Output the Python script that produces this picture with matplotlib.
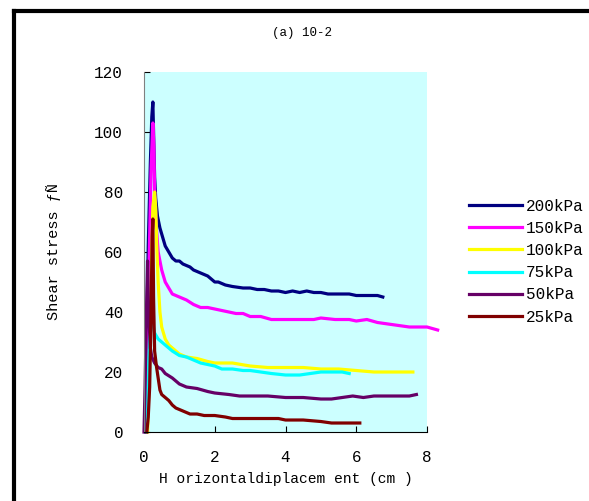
import matplotlib.pyplot as plt
from matplotlib.lines import Line2D

plt.rcParams['font.family'] = ['Liberation Mono', 'DejaVu Sans Mono']

# curve data (x in cm, y shear stress)
x200 = [0.05, 0.08, 0.12, 0.18, 0.22, 0.25, 0.28, 0.3, 0.33, 0.38, 0.45, 0.5, 0.6, 0.7, 0.8, 0.9,
        1.0, 1.1, 1.2, 1.3, 1.4, 1.5, 1.6, 1.7, 1.8, 1.9, 2.0, 2.1, 2.2, 2.3, 2.5, 2.8, 3.0, 3.2,
        3.4, 3.6, 3.8, 4.0, 4.2, 4.4, 4.6, 4.8, 5.0, 5.2, 5.5, 5.8, 6.0, 6.3, 6.6, 6.75]
y200 = [0, 35, 62, 90, 105, 110, 95, 85, 78, 72, 68, 66, 62, 60, 58, 57,
        57, 56, 55.5, 55, 54, 53.5, 53, 52.5, 52, 51, 50, 50, 49.5, 49, 48.5, 48, 48, 47.5,
        47.5, 47, 47, 46.5, 47, 46.5, 47, 46.5, 46.5, 46, 46, 46, 45.5, 45.5, 45.5, 45]

x150 = [0.05, 0.1, 0.15, 0.2, 0.25, 0.28, 0.3, 0.35, 0.4, 0.5, 0.6, 0.7, 0.8, 0.9, 1.0, 1.2,
        1.4, 1.6, 1.8, 2.0, 2.2, 2.4, 2.6, 2.8, 3.0, 3.3, 3.6, 3.8, 4.0, 4.4, 4.8, 5.0, 5.4,
        5.8, 6.0, 6.3, 6.6, 6.9, 7.2, 7.5, 7.8, 8.0, 8.3]
y150 = [0, 30, 60, 88, 103, 95, 80, 68, 60, 54, 50, 48, 46, 45.5, 45, 44,
        42.5, 41.5, 41.5, 41, 40.5, 40, 39.5, 39.5, 38.5, 38.5, 37.5, 37.5, 37.5, 37.5, 37.5, 38, 37.5,
        37.5, 37, 37.5, 36.5, 36, 35.5, 35, 35, 35, 34]

x100 = [0.1, 0.15, 0.2, 0.25, 0.3, 0.33, 0.36, 0.4, 0.45, 0.5, 0.6, 0.7, 0.8, 1.0, 1.2, 1.5,
        1.8, 2.0, 2.5, 3.0, 3.5, 4.0, 4.5, 5.0, 5.5, 6.0, 6.5, 7.0, 7.6]
y100 = [0, 20, 50, 75, 80, 75, 62, 50, 40, 35, 31, 29, 28, 26, 25, 24.5,
        23.5, 23, 23, 22, 21.5, 21.5, 21.5, 21, 21, 20.5, 20, 20, 20]

x75 = [0.05, 0.1, 0.15, 0.2, 0.25, 0.3, 0.4, 0.5, 0.6, 0.7, 0.8, 1.0, 1.2, 1.4, 1.6, 1.8,
       2.0, 2.2, 2.5, 2.8, 3.0, 3.3, 3.6, 4.0, 4.4, 4.7, 5.0, 5.3, 5.6, 5.8]
y75 = [0, 15, 30, 40, 36, 33, 31, 30, 29, 28, 27, 25.5, 25, 24, 23, 22.5,
       22, 21, 21, 20.5, 20.5, 20, 19.5, 19, 19, 19.5, 20, 20, 20, 19.5]

x50 = [0.0, 0.03, 0.06, 0.1, 0.13, 0.18, 0.22, 0.3, 0.4, 0.5, 0.6, 0.8, 1.0, 1.2, 1.5, 1.8,
       2.0, 2.4, 2.7, 3.0, 3.5, 4.0, 4.5, 5.0, 5.3, 5.6, 5.9, 6.2, 6.5, 7.0, 7.5, 7.7]
y50 = [0, 15, 35, 57, 40, 28, 25, 23, 21.5, 21, 19.5, 18, 16, 15, 14.5, 13.5,
       13, 12.5, 12, 12, 12, 11.5, 11.5, 11, 11, 11.5, 12, 11.5, 12, 12, 12, 12.5]

x25 = [0.08, 0.12, 0.16, 0.2, 0.23, 0.25, 0.27, 0.3, 0.35, 0.4, 0.45, 0.5, 0.6, 0.7, 0.8,
       0.9, 1.1, 1.3, 1.5, 1.7, 2.0, 2.3, 2.5, 3.0, 3.5, 3.8, 4.0, 4.5, 5.0, 5.3, 5.6, 6.1]
y25 = [0, 5, 15, 40, 65, 71, 45, 27, 22, 18, 14, 12.5, 11.5, 10.5, 9,
       8, 7, 6, 6, 5.5, 5.5, 5, 4.5, 4.5, 4.5, 4.5, 4, 4, 3.5, 3, 3, 3]

series = [
    ('200kPa', x200, y200, '#000080'),
    ('150kPa', x150, y150, '#FF00FF'),
    ('100kPa', x100, y100, '#FFFF00'),
    ('75kPa', x75, y75, '#00FFFF'),
    ('50kPa', x50, y50, '#660066'),
    ('25kPa', x25, y25, '#800000'),
]

fig = plt.figure(figsize=(5.89, 5.01), dpi=100)
ax = fig.add_axes([0.2445, 0.1377, 0.4805, 0.7186])
ax.set_facecolor('#CCFFFF')

for label, xs, ys, col in series:
    ax.plot(xs, ys, color=col, lw=2.3, label=label, clip_on=False,
            solid_joinstyle='round')

ax.set_xlim(0, 8)
ax.set_ylim(0, 120)
ax.set_xticks([0, 2, 4, 6, 8])
ax.set_yticks([0, 20, 40, 60, 80, 100, 120])
ax.tick_params(direction='in', length=4, labelsize=11.5)
ax.tick_params(axis='x', pad=13)
ax.tick_params(axis='y', pad=15)
for s in ['top', 'right']:
    ax.spines[s].set_visible(False)
ax.spines['left'].set_color('#808080')

ax.set_xlabel('H orizontaldiplacem ent (cm )', fontsize=10.5, labelpad=5)
ax.set_ylabel('Shear stress \u0192\u00d1', fontsize=11, labelpad=24)
fig.text(0.513, 0.934, '(a) 10-2', ha='center', va='center', fontsize=9)

ax.legend(loc='upper left', bbox_to_anchor=(1.127, 0.666), frameon=False,
          fontsize=11.5, handlelength=3.3, handletextpad=0.25, labelspacing=0.45,
          borderaxespad=0)

# black frame visible at top and left
fig.add_artist(Line2D([0.023, 1.0], [0.978, 0.978], color='black', lw=3,
                      transform=fig.transFigure))
fig.add_artist(Line2D([0.023, 0.023], [0.0, 0.978], color='black', lw=3,
                      transform=fig.transFigure))

fig.savefig('out.png', dpi=100)
